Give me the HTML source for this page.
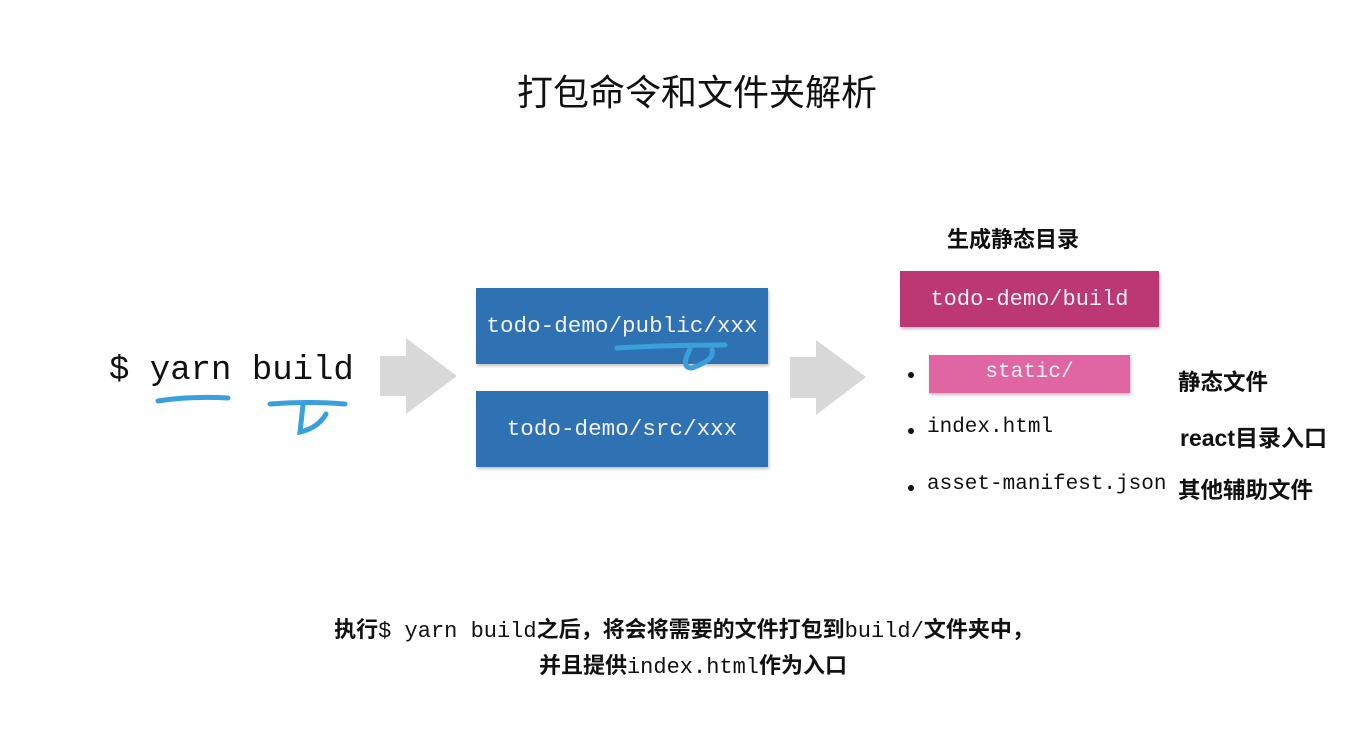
<!DOCTYPE html>
<html><head><meta charset="utf-8"><style>
body{margin:0;width:1372px;height:744px;background:#fff;position:relative;overflow:hidden;font-family:"Liberation Sans","Noto Sans CJK SC",sans-serif;color:#111}
.a{position:absolute;white-space:nowrap}
.m{font-family:"Liberation Mono","DejaVu Sans Mono",monospace}
.box{position:absolute;display:flex;align-items:center;justify-content:center;color:#f4f0f4;box-shadow:1px 2px 3px rgba(0,0,0,.25)}
.b{font-weight:bold}
.dot{position:absolute;width:6px;height:6px;border-radius:50%;background:#111}
</style></head><body>
<div class="a" style="left:0;width:1394px;text-align:center;top:64px;font-size:36px;">打包命令和文件夹解析</div>
<div class="a m" style="left:109px;top:352px;font-size:34px;color:#111">$ yarn build</div>
<svg class="a" style="left:0;top:0" width="1372" height="744">
<polygon points="380,356 406,356 406,338 457,376 406,414 406,396 380,396" fill="#d8d8d8"/>
<polygon points="790,357 816,357 816,340 866,377 816,415 816,398 790,398" fill="#d8d8d8"/>
</svg>
<div class="box m" style="left:476px;top:288px;width:292px;height:76px;background:#2e72b4;font-size:22.6px">todo-demo/public/xxx</div>
<div class="box m" style="left:476px;top:391px;width:292px;height:76px;background:#2e72b4;font-size:22.6px">todo-demo/src/xxx</div>
<div class="a b" style="left:947px;top:222px;font-size:22px">生成静态目录</div>
<div class="box m" style="left:900px;top:271px;width:259px;height:56px;background:#bb3875;font-size:22px">todo-demo/build</div>
<div class="box m" style="left:929px;top:355px;width:201px;height:38px;background:#e066a3;font-size:21px;padding-bottom:4px;box-sizing:border-box">static/</div>
<div class="dot" style="left:908px;top:372px"></div>
<div class="dot" style="left:908px;top:428px"></div>
<div class="dot" style="left:908px;top:485px"></div>
<div class="a m" style="left:927px;top:416px;font-size:21px">index.html</div>
<div class="a m" style="left:927px;top:473px;font-size:21px">asset-manifest.json</div>
<div class="a b" style="left:1178px;top:365px;font-size:22.5px">静态文件</div>
<div class="a b" style="left:1180px;top:419px;font-size:23px">react目录入口</div>
<div class="a b" style="left:1178px;top:473px;font-size:22.5px">其他辅助文件</div>
<div class="a b" style="left:0;width:1368px;text-align:center;top:612px;font-size:22px">执行<span class="m" style="font-weight:normal">$ yarn build</span>之后，将会将需要的文件打包到<span class="m" style="font-weight:normal">build/</span>文件夹中，</div>
<div class="a b" style="left:0;width:1386px;text-align:center;top:648px;font-size:22px">并且提供<span class="m" style="font-weight:normal">index.html</span>作为入口</div>
<svg class="a" style="left:0;top:0" width="1372" height="744" fill="none" stroke="#3aa0dc" stroke-width="5" stroke-linecap="round">
<path d="M158,401 Q190,396 228,398"/>
<path d="M270,404 Q310,401 345,404"/>
<path d="M303,405 L300,432 Q318,428 326,414"/>
<path d="M617,348 Q670,345 725,345"/>
<path d="M690,349 Q680,368 692,368 Q715,360 712,350"/>
</svg>
</body></html>
